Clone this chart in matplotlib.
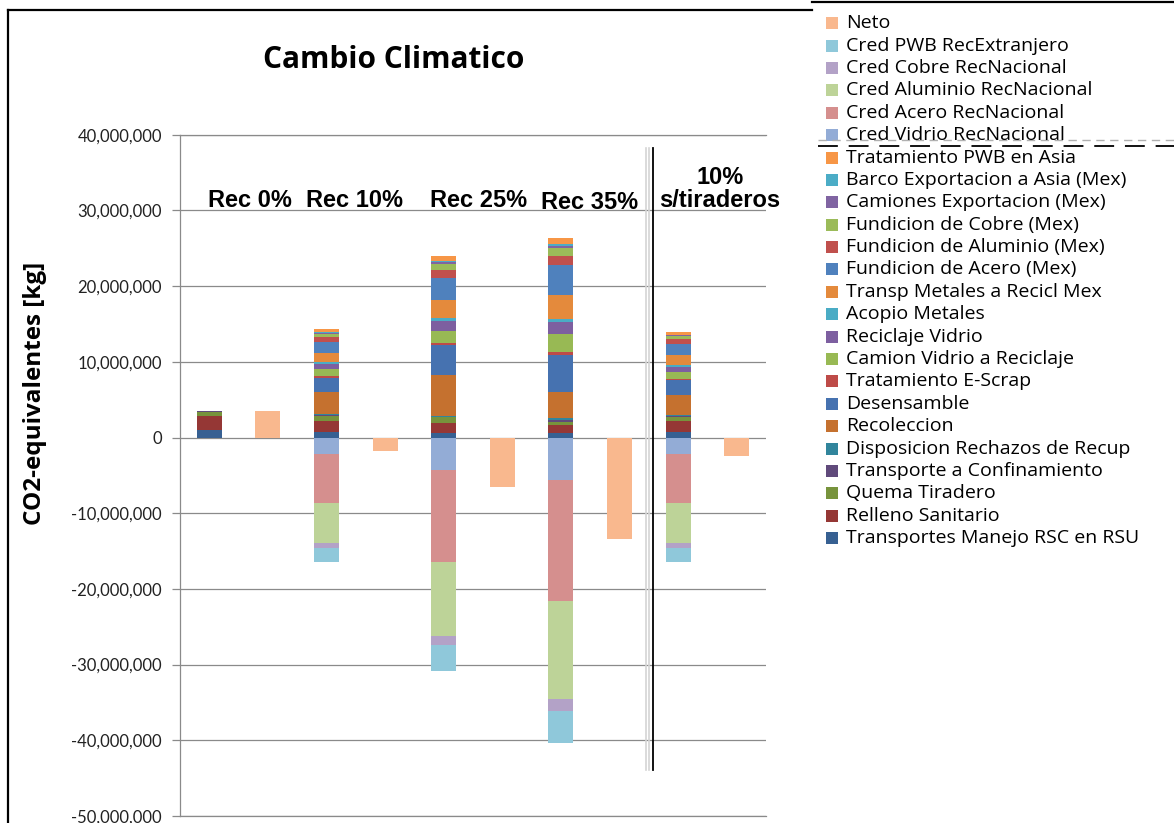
import matplotlib.pyplot as plt
import numpy as np
from matplotlib.ticker import FuncFormatter, MultipleLocator
from matplotlib.patches import Rectangle

W, H = 1174, 823

# escenarios (columna apilada) alternando con su barra de neto
escenarios = ['Rec 0%', 'Rec 10%', 'Rec 25%', 'Rec 35%', '10%\ns/tiraderos']
etiquetas_x = [250, 355, 479, 590, 720]

# aportes por escenario, millones de kg CO2-eq
transportes_rsc = [0.97, 0.69, 0.53, 0.53, 0.75]
relleno = [1.89, 1.54, 1.37, 1.10, 1.45]
quema = [0.53, 0.62, 0.75, 0.44, 0.53]
transp_confinamiento = [0.09, 0.10, 0.10, 0.20, 0.10]
disposicion_rechazos = [0.0, 0.15, 0.08, 0.24, 0.12]
recoleccion = [0.0, 2.95, 5.46, 3.52, 2.73]
desensamble = [0.0, 1.85, 3.96, 4.93, 1.89]
tratamiento_escrap = [0.0, 0.20, 0.18, 0.35, 0.22]
camion_vidrio = [0.0, 1.00, 1.67, 2.42, 0.88]
reciclaje_vidrio = [0.0, 0.66, 1.23, 1.54, 0.66]
acopio_metales = [0.0, 0.20, 0.44, 0.44, 0.30]
transp_metales = [0.0, 1.23, 2.42, 3.17, 1.23]
fund_acero = [0.0, 1.41, 2.86, 3.96, 1.54]
fund_aluminio = [0.0, 0.62, 1.10, 1.19, 0.57]
fund_cobre = [0.0, 0.48, 0.75, 0.97, 0.40]
camiones_export = [0.0, 0.13, 0.26, 0.35, 0.13]
barco_export = [0.0, 0.15, 0.18, 0.15, 0.10]
tratamiento_pwb = [0.0, 0.35, 0.70, 0.92, 0.35]
cred_vidrio = [0.0, -2.20, -4.23, -5.55, -2.20]
cred_acero = [0.0, -6.43, -12.20, -16.03, -6.43]
cred_aluminio = [0.0, -5.28, -9.78, -12.90, -5.28]
cred_cobre = [0.0, -0.75, -1.23, -1.67, -0.75]
cred_pwb = [0.0, -1.76, -3.39, -4.18, -1.76]
neto = [3.48, -1.76, -6.60, -13.43, -2.38]

series = [
    ('Transportes Manejo RSC en RSU', transportes_rsc, '#376092'),
    ('Relleno Sanitario', relleno, '#953735'),
    ('Quema Tiradero', quema, '#77933C'),
    ('Transporte a Confinamiento', transp_confinamiento, '#604A7B'),
    ('Disposicion Rechazos de Recup', disposicion_rechazos, '#31859C'),
    ('Recoleccion', recoleccion, '#C5712F'),
    ('Desensamble', desensamble, '#4672B0'),
    ('Tratamiento E-Scrap', tratamiento_escrap, '#BE4B48'),
    ('Camion Vidrio a Reciclaje', camion_vidrio, '#98B954'),
    ('Reciclaje Vidrio', reciclaje_vidrio, '#7D5FA0'),
    ('Acopio Metales', acopio_metales, '#4AACC5'),
    ('Transp Metales a Recicl Mex', transp_metales, '#E48A3C'),
    ('Fundicion de Acero (Mex)', fund_acero, '#4F81BD'),
    ('Fundicion de Aluminio (Mex)', fund_aluminio, '#C0504D'),
    ('Fundicion de Cobre (Mex)', fund_cobre, '#9BBB59'),
    ('Camiones Exportacion (Mex)', camiones_export, '#8064A2'),
    ('Barco Exportacion a Asia (Mex)', barco_export, '#4BACC6'),
    ('Tratamiento PWB en Asia', tratamiento_pwb, '#F79646'),
    ('Cred Vidrio RecNacional', cred_vidrio, '#93ACD6'),
    ('Cred Acero RecNacional', cred_acero, '#D58F8E'),
    ('Cred Aluminio RecNacional', cred_aluminio, '#BDD398'),
    ('Cred Cobre RecNacional', cred_cobre, '#B3A2C7'),
    ('Cred PWB RecExtranjero', cred_pwb, '#8FC8DA'),
]
color_neto = '#F9B88E'

fig = plt.figure(figsize=(W / 100, H / 100), dpi=100)
fig.patch.set_facecolor('white')


def fx(x):
    return x / W


def fy(y):
    return 1 - y / H


ax = fig.add_axes([fx(180), fy(816), 586 / W, (816 - 134.7) / H])

n = len(escenarios)
pos_apiladas = np.arange(n) * 2
pos_neto = np.arange(n) * 2 + 1
ancho = 0.43

arriba = np.zeros(n)
abajo = np.zeros(n)
for nombre, vals, col in series:
    v = np.array(vals) * 1e6
    base = np.where(v >= 0, arriba, abajo)
    ax.bar(pos_apiladas, v, ancho, bottom=base, color=col, linewidth=0, zorder=3)
    arriba = arriba + np.where(v >= 0, v, 0)
    abajo = abajo + np.where(v < 0, v, 0)

ax.bar(pos_neto, np.array(neto) * 1e6, ancho, color=color_neto, linewidth=0, zorder=3)

ax.set_xlim(-0.5, 2 * n - 0.5)
ax.set_ylim(-50e6, 40e6)
ax.yaxis.set_major_locator(MultipleLocator(10e6))
ax.yaxis.set_major_formatter(FuncFormatter(lambda v, p: '{:,.0f}'.format(v).replace('\u2212', '-')))
ax.yaxis.grid(True, color='#8a8a8a', linewidth=0.9, zorder=0)
ax.set_axisbelow(True)
ax.set_xticks([])
ax.spines['right'].set_visible(False)
for s in ['left', 'top', 'bottom']:
    ax.spines[s].set_color('#8a8a8a')
    ax.spines[s].set_linewidth(0.9)
ax.tick_params(axis='y', direction='out', length=6, width=0.9, color='#8a8a8a', pad=7)
for t in ax.get_yticklabels():
    t.set_fontfamily('Lato')
    t.set_fontsize(12)
    t.set_color('#222222')

# linea que separa el escenario sin tiraderos
for xl, c, lw in [(646, '#d4d4d4', 1.2), (649, '#d4d4d4', 1.2), (653, 'black', 1.3)]:
    fig.add_artist(plt.Line2D([fx(xl), fx(xl)], [fy(148), fy(770)], color=c, lw=lw))

# titulos
fig.text(fx(394), fy(60), 'Cambio Climatico', ha='center', va='center',
         fontsize=21.5, fontweight='bold', family='Open Sans')
fig.text(fx(35), fy(393), 'CO2-equivalentes [kg]', ha='center', va='center', rotation=90,
         fontsize=17.5, fontweight='bold', family='Open Sans')

for et, xe in zip(escenarios, etiquetas_x):
    yb = 209 if et == 'Rec 35%' else 207
    fig.text(fx(xe), fy(yb), et, ha='center', va='baseline', fontsize=17,
             fontweight='bold', family='Liberation Sans', linespacing=1.0,
             multialignment='center')

# leyenda
entradas = [('Neto', None, color_neto)] + series[::-1]
y0 = 23.3
paso = 22.38
for i, (nombre, _, col) in enumerate(entradas):
    yc = y0 + i * paso
    fig.add_artist(Rectangle((fx(826), fy(yc + 6)), 12 / W, 12 / H,
                             transform=fig.transFigure, color=col, lw=0))
    fig.text(fx(846), fy(yc), nombre, ha='left', va='center', fontsize=14,
             family='Open Sans', color='black')

fig.add_artist(plt.Line2D([fx(818), fx(1174)], [fy(140), fy(140)], color='#b0b0b0',
                          lw=1, dashes=(6, 4)))
fig.add_artist(plt.Line2D([fx(818), fx(1174)], [fy(146), fy(146)], color='black',
                          lw=1.3, dashes=(11, 6)))

# marco
fig.add_artist(plt.Line2D([fx(8), fx(8)], [fy(10), fy(823)], color='black', lw=1.6))
fig.add_artist(plt.Line2D([fx(8), fx(812)], [fy(10), fy(10)], color='black', lw=1.6))
fig.add_artist(plt.Line2D([fx(812), fx(1174)], [fy(1.5), fy(1.5)], color='black', lw=1.6))

plt.savefig('out.png', dpi=100)
